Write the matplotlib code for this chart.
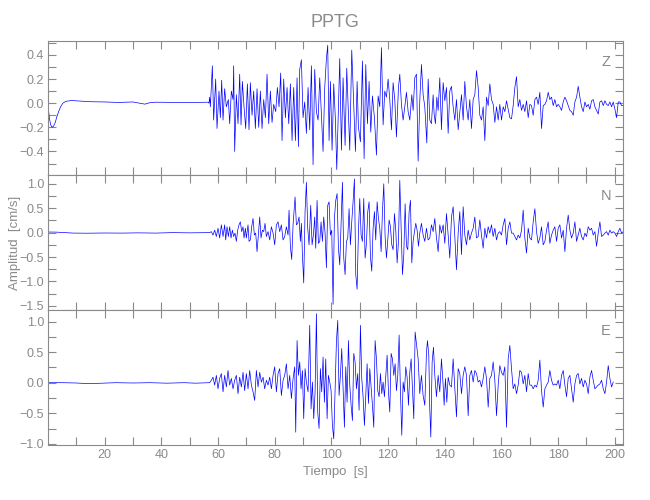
import matplotlib
matplotlib.use("Agg")
import matplotlib.pyplot as plt
from matplotlib.ticker import MultipleLocator

plt.rcParams['font.family'] = ['Liberation Sans', 'DejaVu Sans']

# --- data (time in s, amplitude in cm/s) ---
z_time = [0.0, 0.5, 1.0, 1.5, 2.0, 2.6, 3.2, 3.8, 4.5, 5.3, 6.3, 8.3, 11.0, 15.0, 20.0, 25.0, 30.0, 34.2, 36.0, 38.0, 45.0, 50.0, 56.5,
          56.84, 57.08, 57.32, 58.02, 58.49, 59.20, 59.67, 60.37, 60.84, 61.32, 61.79, 62.37, 62.96, 63.67, 64.14, 64.73,
          65.32, 65.55, 65.90, 66.49, 67.08, 67.67, 68.14, 68.61, 69.20, 69.79, 70.38, 70.96, 71.43, 72.02, 72.61, 73.20,
          73.79, 74.38, 74.96, 75.55, 76.14, 76.73, 77.32, 77.91, 78.49, 79.08, 79.67, 80.38, 80.96, 81.55, 82.14, 82.61,
          83.20, 83.79, 84.38, 84.97, 85.55, 86.14, 86.73, 87.32, 87.91, 88.38, 88.85, 89.44, 90.02, 90.61, 91.20, 91.79,
          92.38, 92.97, 93.55, 94.14, 94.73, 95.32, 95.91, 96.50, 97.08, 97.67, 98.26, 98.73, 99.20, 99.67, 100.26, 100.85,
          101.44, 101.91, 102.38, 102.97, 103.56, 104.14, 104.85, 105.44, 106.03, 106.50, 107.20, 107.91, 108.50, 109.09,
          109.56, 110.26, 110.97, 111.56, 112.15, 112.73, 113.32, 113.91, 114.50, 115.20, 115.91, 116.50, 117.09, 117.68,
          118.26, 118.85, 119.44, 120.03, 120.62, 121.21, 121.79, 122.38, 122.97, 123.68, 124.15, 124.73, 125.32, 125.91,
          126.50, 127.09, 127.68, 128.38, 128.85, 129.44,
          130.03, 130.62, 131.20, 131.79, 132.38, 132.97, 133.68, 134.15, 134.73, 135.32, 135.91, 136.26, 136.73, 137.21,
          137.68, 138.26, 138.85, 139.44, 140.03, 140.62, 141.21, 141.79, 142.38, 142.97, 143.56, 144.15, 144.74, 145.91,
          146.50, 147.09, 147.68, 148.27, 148.85, 149.44, 150.03, 150.62, 151.21, 151.80, 152.38, 152.97, 153.56, 154.15,
          154.74, 155.33, 155.91, 156.50, 157.09, 157.68, 158.27, 158.86, 159.44, 160.03, 160.62, 161.21, 161.80, 162.97,
          163.56, 164.15, 164.74, 165.33, 165.91, 166.50, 167.09, 167.68, 168.27, 168.86, 169.44, 170.03, 170.62, 171.21,
          171.80, 172.39, 172.97, 173.56, 174.15, 174.74, 175.33, 175.92, 176.50, 177.09, 177.68, 178.27, 178.86, 179.45,
          180.03, 180.62, 181.21, 181.80, 182.39, 182.98, 183.56, 184.15, 184.74, 185.33, 185.92, 186.51, 187.09, 187.68,
          188.27, 188.86, 189.45, 190.03, 190.62, 191.21, 191.80, 192.39, 192.98, 193.56, 194.15, 194.74, 195.33, 195.92,
          196.51, 197.10, 197.68, 198.27, 198.86, 199.45, 200.04, 200.62, 201.21, 201.80, 202.39, 202.98]
z_amp = [0.0, -0.12, -0.18, -0.20, -0.19, -0.16, -0.11, -0.07, -0.03, 0.0, 0.015, 0.022, 0.018, 0.012, 0.01, 0.006, 0.01, -0.008, 0.004, 0.008, 0.006, 0.005, 0.008,
         0.00, 0.05, -0.03, 0.31, -0.14, 0.20, -0.21, 0.10, -0.12, 0.19, -0.14, 0.12, -0.03, 0.03, -0.17, 0.10,
         0.03, 0.31, -0.40, 0.07, -0.17, 0.24, -0.18, 0.18, -0.03, -0.21, 0.16, -0.22, 0.17, -0.10, 0.10, -0.21,
         0.12, -0.20, 0.10, -0.21, 0.03, -0.12, 0.24, -0.17, 0.10, -0.16, -0.01, -0.07, 0.13, -0.03, 0.25, -0.31,
         0.20, -0.12, 0.13, -0.17, 0.16, -0.31, 0.13, -0.31, 0.21, -0.36, 0.28, 0.36, -0.12, 0.01, -0.25, 0.13,
         -0.22, 0.31, -0.51, 0.28, -0.07, -0.14, 0.21, -0.09, -0.40, 0.13, 0.37, 0.48, -0.31, 0.18, -0.39, 0.16,
         -0.14, -0.55, -0.14, 0.37, -0.39, 0.21, -0.35, 0.29, -0.09, -0.39, 0.44, -0.03, -0.40, 0.18,
         -0.20, -0.32, 0.35, -0.46, 0.32, -0.17, 0.18, -0.24, 0.06, -0.12, -0.43, 0.06, -0.03, 0.46,
         -0.18, 0.10, 0.05, 0.20, 0.03, -0.22, 0.17, 0.03, -0.28, 0.13, 0.24, -0.01, -0.14, -0.03,
         0.09, -0.07, -0.14, 0.07, -0.06, 0.21,
         0.24, -0.48, 0.02, 0.32, 0.07, -0.03, -0.33, 0.20, -0.14, -0.17, 0.07, -0.09, -0.17, 0.05,
         -0.06, 0.21, -0.22, 0.17, 0.02, 0.13, -0.25, 0.10, 0.14, -0.03, -0.14, 0.03, -0.22, 0.07,
         -0.14, 0.18, -0.03, -0.14, 0.03, -0.21, 0.03, 0.07, 0.27, 0.13, -0.10, -0.14, -0.03, -0.31,
         0.05, -0.02, 0.16, 0.03, -0.01, -0.16, -0.03, -0.14, -0.01, -0.14, -0.03, -0.07, 0.02, -0.12,
         -0.13, -0.02, 0.13, 0.22, -0.03, 0.03, -0.06, -0.01, -0.07, 0.02, -0.12, -0.01, -0.02, -0.10,
         0.03, 0.05, -0.01, 0.09, -0.21, -0.02, -0.01, 0.02, 0.09, 0.03, 0.05, -0.02, 0.03, -0.03,
         -0.01, -0.03, -0.06, 0.01, 0.05, 0.02, -0.02, -0.06, -0.07, -0.10, 0.01, 0.05, 0.14, 0.05,
         -0.03, -0.07, 0.01, -0.03, -0.01, -0.05, 0.02, 0.03, -0.03, -0.06, -0.09, 0.01, 0.02, -0.02,
         0.02, -0.01, -0.02, 0.01, -0.03, 0.01, -0.05, -0.12, 0.01, 0.01, -0.02, -0.02]

n_time = [0.0, 3.0, 6.0, 9.0, 14.0, 20.0, 26.0, 32.0, 38.0, 44.0, 50.0, 55.0,
          57.08, 57.67, 58.26, 58.84, 59.43, 60.02, 60.61, 61.20, 61.79, 62.37, 62.73, 63.20, 63.67, 64.14, 64.61, 65.08,
          65.55, 66.02, 66.49, 66.96, 67.43, 67.90, 68.38, 68.85, 69.20, 69.67, 70.02, 70.61, 70.96, 71.43, 71.90, 72.38,
          72.85, 73.32, 73.79, 74.26, 74.73, 75.20, 75.67, 76.14, 76.61, 77.08, 77.67, 78.26, 78.85, 79.44, 80.02, 80.61,
          81.20, 81.79, 82.38, 82.97, 83.55, 84.14, 84.73, 85.08, 85.55, 86.02, 86.50, 87.20, 87.67, 88.14, 88.61, 89.08,
          89.44, 89.79, 90.26, 90.73, 91.20, 91.67, 92.14, 92.73, 93.20, 93.67, 94.14, 94.50, 94.97, 95.44, 95.91, 96.38,
          96.85, 97.32, 97.79, 98.26, 98.73, 99.20, 99.67, 100.14, 100.61, 101.08, 101.56, 102.03, 102.50, 102.97, 103.44,
          103.91, 104.38, 104.85, 105.32, 105.79, 106.26, 106.73, 107.20, 107.67, 108.14, 108.62, 109.09, 109.56, 110.03,
          110.50, 110.97, 111.44, 111.91, 112.38, 112.85, 113.32, 113.79, 114.26, 114.73, 115.20, 115.67, 116.15, 116.62,
          117.09, 117.56, 118.03, 118.50, 118.97, 119.44, 119.91, 120.38, 120.85, 121.32, 121.79, 122.26, 122.73, 123.21,
          123.68, 124.15, 124.62, 125.09, 125.56, 126.03, 126.50, 126.97, 127.44, 127.91, 128.38, 128.85, 129.32, 129.79,
          130.26, 130.73,
          131.20, 131.79, 132.38, 132.97, 133.56, 134.15, 134.73, 135.32, 135.91, 136.50, 137.09, 137.68, 138.26, 138.85,
          139.44, 140.03, 140.62, 141.21, 141.79, 142.38, 142.97, 143.56, 144.15, 144.74, 145.32, 145.91, 146.50, 147.09,
          147.68, 148.27, 148.85, 149.44, 150.03, 150.62, 151.21, 151.80, 152.38, 152.97, 153.56, 154.15, 154.74, 155.33,
          155.91, 156.50, 157.09, 157.68, 158.27, 158.86, 159.44, 160.03, 160.62, 161.21, 161.80, 162.39, 162.97, 163.56,
          164.15, 164.74, 165.33, 165.91, 166.50, 167.09, 167.68, 168.27, 168.86, 169.44, 170.03, 170.62, 171.21, 171.80,
          172.39, 172.97, 173.56, 174.15, 174.74, 175.33, 175.92, 176.50, 177.09, 177.68, 178.27, 178.86, 179.45, 180.03,
          180.62, 181.21, 181.80, 182.39, 182.98, 183.56, 184.15, 184.74, 185.33, 185.92, 186.51, 187.09, 187.68, 188.27,
          188.86, 189.45, 190.03, 190.62, 191.21, 191.80, 192.39, 192.98, 193.56, 194.15, 194.74, 195.33, 195.92, 196.51,
          197.10, 197.68, 198.27, 198.86, 199.45, 200.04, 200.62, 201.21, 201.80, 202.39, 202.98]
n_amp = [0.012, 0.01, 0.0, -0.01, -0.012, -0.008, -0.01, -0.005, -0.01, 0.0, -0.005, 0.0,
         0.0, 0.02, -0.05, 0.05, -0.08, 0.09, -0.11, 0.16, -0.08, 0.16, -0.15, 0.12, -0.08, 0.12, -0.11, 0.05,
         -0.08, -0.01, -0.18, 0.05, 0.16, 0.22, 0.02, 0.12, -0.11, 0.09, -0.11, 0.16, -0.18, -0.15, 0.12, 0.29,
         -0.05, -0.01, -0.39, -0.05, 0.32, -0.11, 0.05, 0.02, 0.19, -0.08, 0.02, -0.15, 0.12, -0.01, -0.25, 0.16,
         0.22, 0.02, 0.16, -0.15, -0.08, 0.12, -0.05, 0.46, -0.28, -0.55, 0.16, 0.73, 0.16, 0.19, 0.32, -0.18,
         0.19, -0.45, -1.03, 0.43, 1.03, 0.09, -0.25, 0.56, -0.25, -0.05, 0.32, -0.32, 0.66, -0.22, -0.18, 0.22,
         -0.18, 0.32, -0.01, -0.72, 0.56, 0.63, -0.05, 0.05, -1.47, 0.29, 0.66, 0.80, -0.32, -0.66, 0.22,
         1.03, -0.52, -0.86, -0.18, -0.11, 0.49, -0.25, 0.22, 0.63, 1.10, -0.86, -1.16, 0.02, 0.70,
         -0.05, -0.18, 0.70, -0.52, -0.22, 0.43, 0.63, -0.49, -0.79, 0.09, 0.43, -0.15, 0.63, 0.29,
         0.09, -0.39, 0.43, 1.00, -0.08, -0.52, -0.15, 0.26, 0.12, -0.25, -0.35, 0.39, 0.05, -0.62,
         -0.18, 1.07, 0.09, -0.86, -0.45, 0.59, -0.28, -0.35, 0.43, 0.66, -0.62, -0.18, 0.02, 0.19,
         0.05, -0.28,
         -0.01, 0.19, -0.05, -0.18, 0.09, -0.15, -0.11, 0.16, 0.02, 0.29, -0.11, -0.39, 0.16, -0.01,
         0.16, -0.22, 0.39, -0.05, -0.52, 0.32, 0.53, -0.08, -0.76, -0.01, 0.43, -0.45, 0.53, -0.05,
         -0.25, 0.05, -0.15, -0.01, 0.09, 0.32, -0.11, -0.08, 0.26, -0.05, -0.32, 0.09, -0.11, 0.12,
         -0.01, 0.16, -0.08, 0.09, -0.15, -0.01, 0.02, -0.05, 0.16, 0.29, -0.25, 0.09, 0.22, -0.01,
         -0.01, -0.08, -0.15, -0.05, -0.11, 0.05, 0.46, -0.11, -0.42, 0.09, -0.11, -0.15, 0.22, 0.49,
         0.02, -0.22, -0.11, 0.12, -0.25, -0.18, 0.05, 0.22, -0.22, -0.05, 0.05, 0.12, -0.18, 0.09,
         0.16, -0.11, 0.05, -0.39, 0.09, 0.36, 0.05, -0.11, -0.01, 0.22, -0.18, -0.05, 0.09, -0.08,
         -0.15, -0.01, -0.08, 0.12, 0.05, 0.09, -0.05, 0.02, -0.28, -0.01, 0.22, -0.08, -0.05, -0.01,
         0.02, -0.05, 0.05, -0.01, 0.02, -0.01, -0.08, 0.02, 0.09, -0.01, 0.02]

e_time = [0.2, 5.0, 10.0, 14.0, 18.0, 24.0, 30.0, 36.0, 42.0, 48.0, 52.0,
          57.08, 57.67, 58.26, 58.84, 59.43, 60.02, 60.61, 61.20, 61.79, 62.37, 62.96, 63.55, 64.14, 64.73, 65.32, 65.90,
          66.49, 67.08, 67.67, 68.26, 68.85, 69.43, 70.02, 70.61, 71.20, 71.79, 72.38, 72.96, 73.55, 74.14, 74.73, 75.32,
          75.91, 76.49, 77.08, 77.67, 78.26, 78.85, 79.44, 80.02, 80.61, 81.20, 81.79, 82.38, 82.97, 83.55, 84.14, 84.73,
          85.32, 85.91, 86.50, 87.08, 87.44, 87.91, 88.38, 88.85, 89.32, 89.79, 90.26, 90.73, 91.20, 91.79, 92.38, 92.85,
          93.32, 93.79, 94.26, 94.73, 95.20, 95.67, 96.14, 96.61, 97.08, 97.55, 98.03, 98.50, 98.97, 99.44, 99.91, 100.38,
          100.85, 101.32, 101.79, 102.26, 102.73, 103.20, 103.67, 104.14, 104.61, 105.09, 105.56, 106.03, 106.50, 106.97,
          107.44, 107.91, 108.38, 108.85, 109.32, 109.79, 110.26, 110.73, 111.20, 111.67, 112.15, 112.62, 113.09, 113.56,
          114.03, 114.50, 114.97, 115.44, 115.91, 116.38, 116.85, 117.32, 117.79, 118.26, 118.73, 119.20, 119.68, 120.15,
          120.62, 121.09, 121.56, 122.03, 122.50, 122.97, 123.44, 123.91, 124.38, 124.85, 125.32, 125.79, 126.26, 126.73,
          127.21, 127.68, 128.15, 128.62, 129.09, 129.56,
          130.62, 131.20, 131.79, 132.38, 132.97, 133.56, 133.91, 134.38, 134.73, 135.09, 135.56, 136.03, 136.50, 137.09,
          137.68, 138.26, 138.85, 139.44, 139.79, 140.26, 140.74, 141.21, 141.79, 142.38, 142.97, 143.56, 144.15, 144.74,
          145.32, 145.91, 146.50, 147.09, 147.68, 148.27, 148.85, 149.44, 150.03, 150.62, 151.21, 151.80, 152.38, 152.97,
          153.56, 154.15, 154.74, 155.33, 155.91, 156.50, 157.09, 157.68, 158.27, 158.86, 159.44, 160.03, 160.62, 161.21,
          161.80, 162.39, 162.97, 163.56, 164.15, 164.74, 165.33, 165.91, 166.50, 167.09, 167.68, 168.27, 168.86, 169.44,
          170.03, 170.62, 171.21, 171.80, 172.39, 172.97, 173.56, 174.15, 174.74, 175.33, 175.92, 176.50, 177.09, 177.68,
          178.27, 178.86, 179.45, 180.03, 180.62, 181.21, 181.80, 182.39, 182.98, 183.56, 184.15, 184.74, 185.33, 185.92,
          186.51, 187.09, 187.68, 188.27, 188.86, 189.45, 190.03, 190.62, 191.21, 191.80, 192.39, 192.98, 193.56, 194.15,
          194.74, 195.33, 195.92, 196.51, 197.10, 197.68, 198.27, 198.86, 199.45]
e_amp = [0.0, 0.0, -0.005, -0.015, -0.01, 0.0, -0.005, 0.0, -0.008, 0.0, -0.008,
         0.0, 0.04, 0.09, -0.04, 0.12, -0.10, 0.07, 0.15, -0.15, 0.12, -0.07, 0.20, -0.04, 0.07, -0.10, 0.04,
         0.12, -0.18, 0.09, -0.07, 0.17, -0.13, 0.15, -0.10, 0.20, -0.04, -0.15, -0.29, 0.20, -0.07, 0.17, 0.01,
         0.09, -0.10, 0.04, -0.04, 0.09, -0.10, 0.12, 0.26, -0.15, 0.15, 0.23, -0.21, 0.04, 0.12, 0.31, -0.10,
         0.12, -0.26, 0.07, 0.26, -0.81, 0.69, 0.12, 0.34, -0.10, 0.20, -0.59, 0.23, 0.01, -0.15, 0.94, -0.43,
         0.01, -0.59, -0.15, 1.13, -0.48, -0.75, 0.23, -0.15, 0.42, -0.32, 0.39, -0.59, 0.12, 0.01, -0.13, -0.70,
         -0.92, -0.15, 0.67, 1.02, -0.21, 0.12, 0.56, -0.10, -0.73, 0.26, -0.32, 0.69, -0.04, -0.37,
         -0.62, 0.48, 0.34, -0.10, 0.15, -0.45, 0.94, 0.07, -0.23, -0.70, -0.21, 0.31, -0.34, 0.23,
         -0.07, -0.37, -0.73, 0.69, 0.39, -0.13, -0.23, 0.15, -0.18, 0.01, -0.23, 0.12, 0.45, -0.15,
         -0.48, 0.48, 0.39, 0.12, 0.31, -0.13, 0.12, 0.78, -0.15, -0.86, 0.01, -0.15, 0.26, 0.09,
         -0.37, 0.17, 0.39, -0.10, -0.59, 0.83,
         0.39, -0.18, 0.12, -0.21, -0.37, 0.50, 0.69, 0.45, -0.43, -0.89, 0.34, 0.58, 0.12, -0.23,
         0.12, -0.15, 0.39, -0.04, -0.37, 0.07, -0.32, 0.09, -0.04, -0.07, 0.39, -0.10, -0.56, 0.23,
         0.15, -0.18, 0.12, 0.26, 0.12, -0.54, 0.12, 0.20, 0.01, 0.20, 0.15, 0.01, 0.04, -0.07,
         0.07, 0.26, 0.07, -0.40, 0.07, 0.12, 0.34, 0.04, -0.54, -0.04, 0.28, 0.17, 0.12, 0.26,
         -0.73, 0.39, 0.61, 0.23, -0.10, -0.02, -0.18, -0.04, 0.20, 0.17, -0.02, 0.12, -0.15, 0.15,
         -0.04, -0.04, -0.10, -0.04, -0.07, 0.04, 0.37, -0.13, -0.40, -0.10, -0.04, 0.01, 0.20, 0.04,
         -0.04, -0.02, -0.04, 0.04, -0.10, 0.12, 0.20, -0.04, -0.23, 0.07, 0.12, -0.10, -0.32, -0.02,
         0.12, 0.15, -0.02, 0.07, -0.07, 0.04, -0.02, -0.18, 0.09, 0.20, 0.04, -0.10, -0.07, -0.04,
         -0.02, 0.04, -0.10, -0.18, 0.01, 0.28, 0.07, -0.07, 0.01]

components = ['Z', 'N', 'E']
y_limits = [(-0.595, 0.515), (-1.585, 1.18), (-1.02, 1.19)]
y_major = [0.2, 0.5, 0.5]
y_minor = [0.1, 0.25, 0.25]
traces = [(z_time, z_amp), (n_time, n_amp), (e_time, e_amp)]

grey = '#8a8a8a'
fig = plt.figure(figsize=(6.5, 5), dpi=100)
boxes = [[0.0743, 0.65, 0.8842, 0.268], [0.0743, 0.38, 0.8842, 0.27], [0.0743, 0.11, 0.8842, 0.27]]

for i, (box, (t, a)) in enumerate(zip(boxes, traces)):
    ax = fig.add_axes(box)
    ax.plot(t, a, color='#0000ff', lw=0.5)
    ax.set_xlim(0.15, 202.9)
    ax.set_ylim(*y_limits[i])
    ax.xaxis.set_major_locator(MultipleLocator(20))
    ax.xaxis.set_minor_locator(MultipleLocator(10))
    ax.yaxis.set_major_locator(MultipleLocator(y_major[i]))
    ax.yaxis.set_minor_locator(MultipleLocator(y_minor[i]))
    ax.tick_params(which='both', direction='in', top=True, right=True, length=6, width=0.8,
                   color=grey, labelcolor=grey, labelsize=9, pad=3)
    for s in ax.spines.values():
        s.set_color(grey)
        s.set_linewidth(0.8)
    if i < 2:
        ax.tick_params(labelbottom=False)
    ax.text(0.97, 0.845, components[i], transform=ax.transAxes, ha='center', va='center',
            color=grey, fontsize=10.5)

fig.text(0.516, 0.955, 'PPTG', ha='center', va='center', fontsize=13, color=grey)
fig.text(0.516, 0.056, 'Tiempo  [s]', ha='center', va='center', fontsize=9.5, color=grey)
fig.text(0.023, 0.515, 'Amplitud  [cm/s]', ha='center', va='center', rotation=90, fontsize=9.5, color=grey)

fig.savefig('out.png', dpi=100)
